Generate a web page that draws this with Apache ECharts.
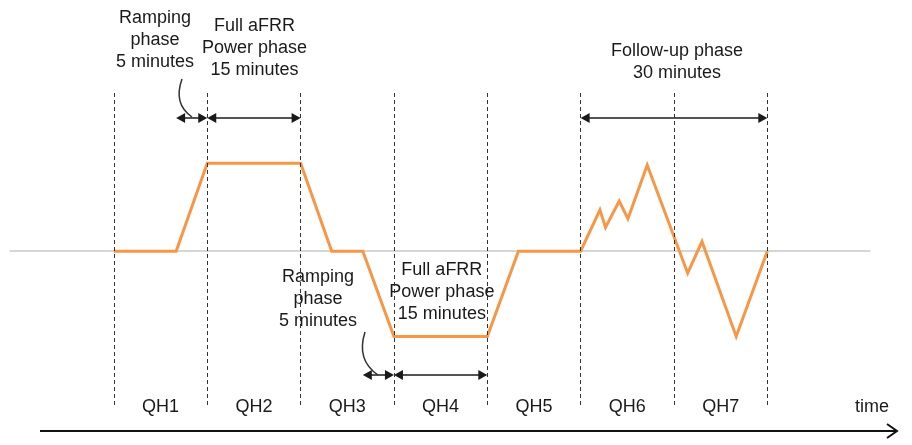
<!DOCTYPE html>
<html>
<head>
<meta charset="utf-8">
<title>aFRR phases</title>
<script src="https://cdn.jsdelivr.net/npm/echarts@6.0.0/dist/echarts.min.js"></script>
<style>
  html, body { margin: 0; padding: 0; background: #fff; }
  #chart { width: 912px; height: 445px; }
</style>
</head>
<body>
<div id="chart"></div>
<script>
// minutes from start of QH1 / power as % of full aFRR power
var times = [0, 10, 15, 30, 35, 40, 45, 60, 65, 75, 78.1, 79, 81.2, 82.6, 85.7, 92.2, 94.5, 100, 105];
var power = [0, 0, 100, 100, 0, 0, -97, -97, 0, 0, 47, 27, 57, 37, 98, -25, 11, -97, 0];

var qhBounds = [0, 15, 30, 45, 60, 75, 90, 105];
var qhNames = ["QH1", "QH2", "QH3", "QH4", "QH5", "QH6", "QH7"];

// phase arrows (minutes)
var phaseStart = [10, 15, 40, 45, 75];
var phaseEnd = [15, 30, 45, 60, 105];
var phaseText = [
  "Ramping\nphase\n5 minutes",
  "Full aFRR\nPower phase\n15 minutes",
  "Ramping\nphase\n5 minutes",
  "Full aFRR\nPower phase\n15 minutes",
  "Follow-up phase\n30 minutes"
];

// layout only
var arrowY = [118, 118, 375, 375, 118];
var labelX = [6.6, 22.6, 32.8, 52.7, 90.5];
var labelY = [40, 48, 299, 292, 62];
var leaders = [
  [182, 79, 173, 104, 192, 117],
  [365, 332, 356, 360, 378, 375]
];

var FONT = '18px "Liberation Sans", Arial, sans-serif';
var INK = "#1a1a1a";

var chart = echarts.init(document.getElementById("chart"));

chart.setOption({
  animation: false,
  grid: { left: 10, right: 42, top: 93, bottom: 40 },
  xAxis: {
    type: "value",
    min: -16.7,
    max: 121.5,
    axisLine: { onZero: true, lineStyle: { color: "#c9c9c9", width: 1.5 } },
    axisTick: { show: false },
    axisLabel: { show: false },
    splitLine: { show: false }
  },
  yAxis: { type: "value", min: -175, max: 180, show: false },
  series: [
    {
      name: "qh",
      type: "line",
      data: [],
      z: 1,
      markLine: {
        silent: true,
        symbol: "none",
        label: { show: false },
        lineStyle: { type: [4, 3], color: "#333", width: 1 },
        data: qhBounds.map(function (b) { return { xAxis: b }; })
      }
    },
    {
      name: "power",
      type: "line",
      data: times.map(function (t, i) { return [t, power[i]]; }),
      symbol: "none",
      z: 3,
      lineStyle: { color: "#f79646", width: 3, join: "miter" }
    }
  ]
});

function px(t) {
  return chart.convertToPixel({ xAxisIndex: 0 }, t);
}

function head(x, y, dir) {
  // dir = -1 points left, 1 points right
  return {
    type: "polygon",
    shape: { points: [[x, y], [x - dir * 9, y - 5], [x - dir * 9, y + 5]] },
    style: { fill: INK }
  };
}

var els = [];

for (var i = 0; i < phaseStart.length; i++) {
  var x1 = px(phaseStart[i]);
  var x2 = px(phaseEnd[i]);
  var y = arrowY[i];
  els.push({
    type: "line",
    shape: { x1: x1 + 4, y1: y, x2: x2 - 4, y2: y },
    style: { stroke: INK, lineWidth: 1.5 }
  });
  els.push(head(x1, y, -1));
  els.push(head(x2, y, 1));
  els.push({
    type: "text",
    x: px(labelX[i]),
    y: labelY[i],
    style: {
      text: phaseText[i],
      font: FONT,
      fill: INK,
      align: "center",
      verticalAlign: "middle",
      lineHeight: 22
    }
  });
}

leaders.forEach(function (c) {
  els.push({
    type: "bezierCurve",
    shape: { x1: c[0], y1: c[1], cpx1: c[2], cpy1: c[3], x2: c[4], y2: c[5] },
    style: { stroke: "#333", lineWidth: 1.5, fill: null }
  });
});

for (var q = 0; q < qhNames.length; q++) {
  els.push({
    type: "text",
    x: px((qhBounds[q] + qhBounds[q + 1]) / 2),
    y: 407,
    style: { text: qhNames[q], font: FONT, fill: INK, align: "center", verticalAlign: "middle" }
  });
}

els.push({
  type: "text",
  x: 872,
  y: 407,
  style: { text: "time", font: FONT, fill: INK, align: "center", verticalAlign: "middle" }
});

// time arrow
els.push({
  type: "line",
  shape: { x1: 40, y1: 431, x2: 896, y2: 431 },
  style: { stroke: "#111", lineWidth: 2 }
});
els.push({
  type: "polyline",
  shape: { points: [[887, 424], [897, 431], [887, 438]] },
  style: { stroke: "#111", lineWidth: 2, fill: null }
});

chart.setOption({ graphic: els });
</script>
</body>
</html>
